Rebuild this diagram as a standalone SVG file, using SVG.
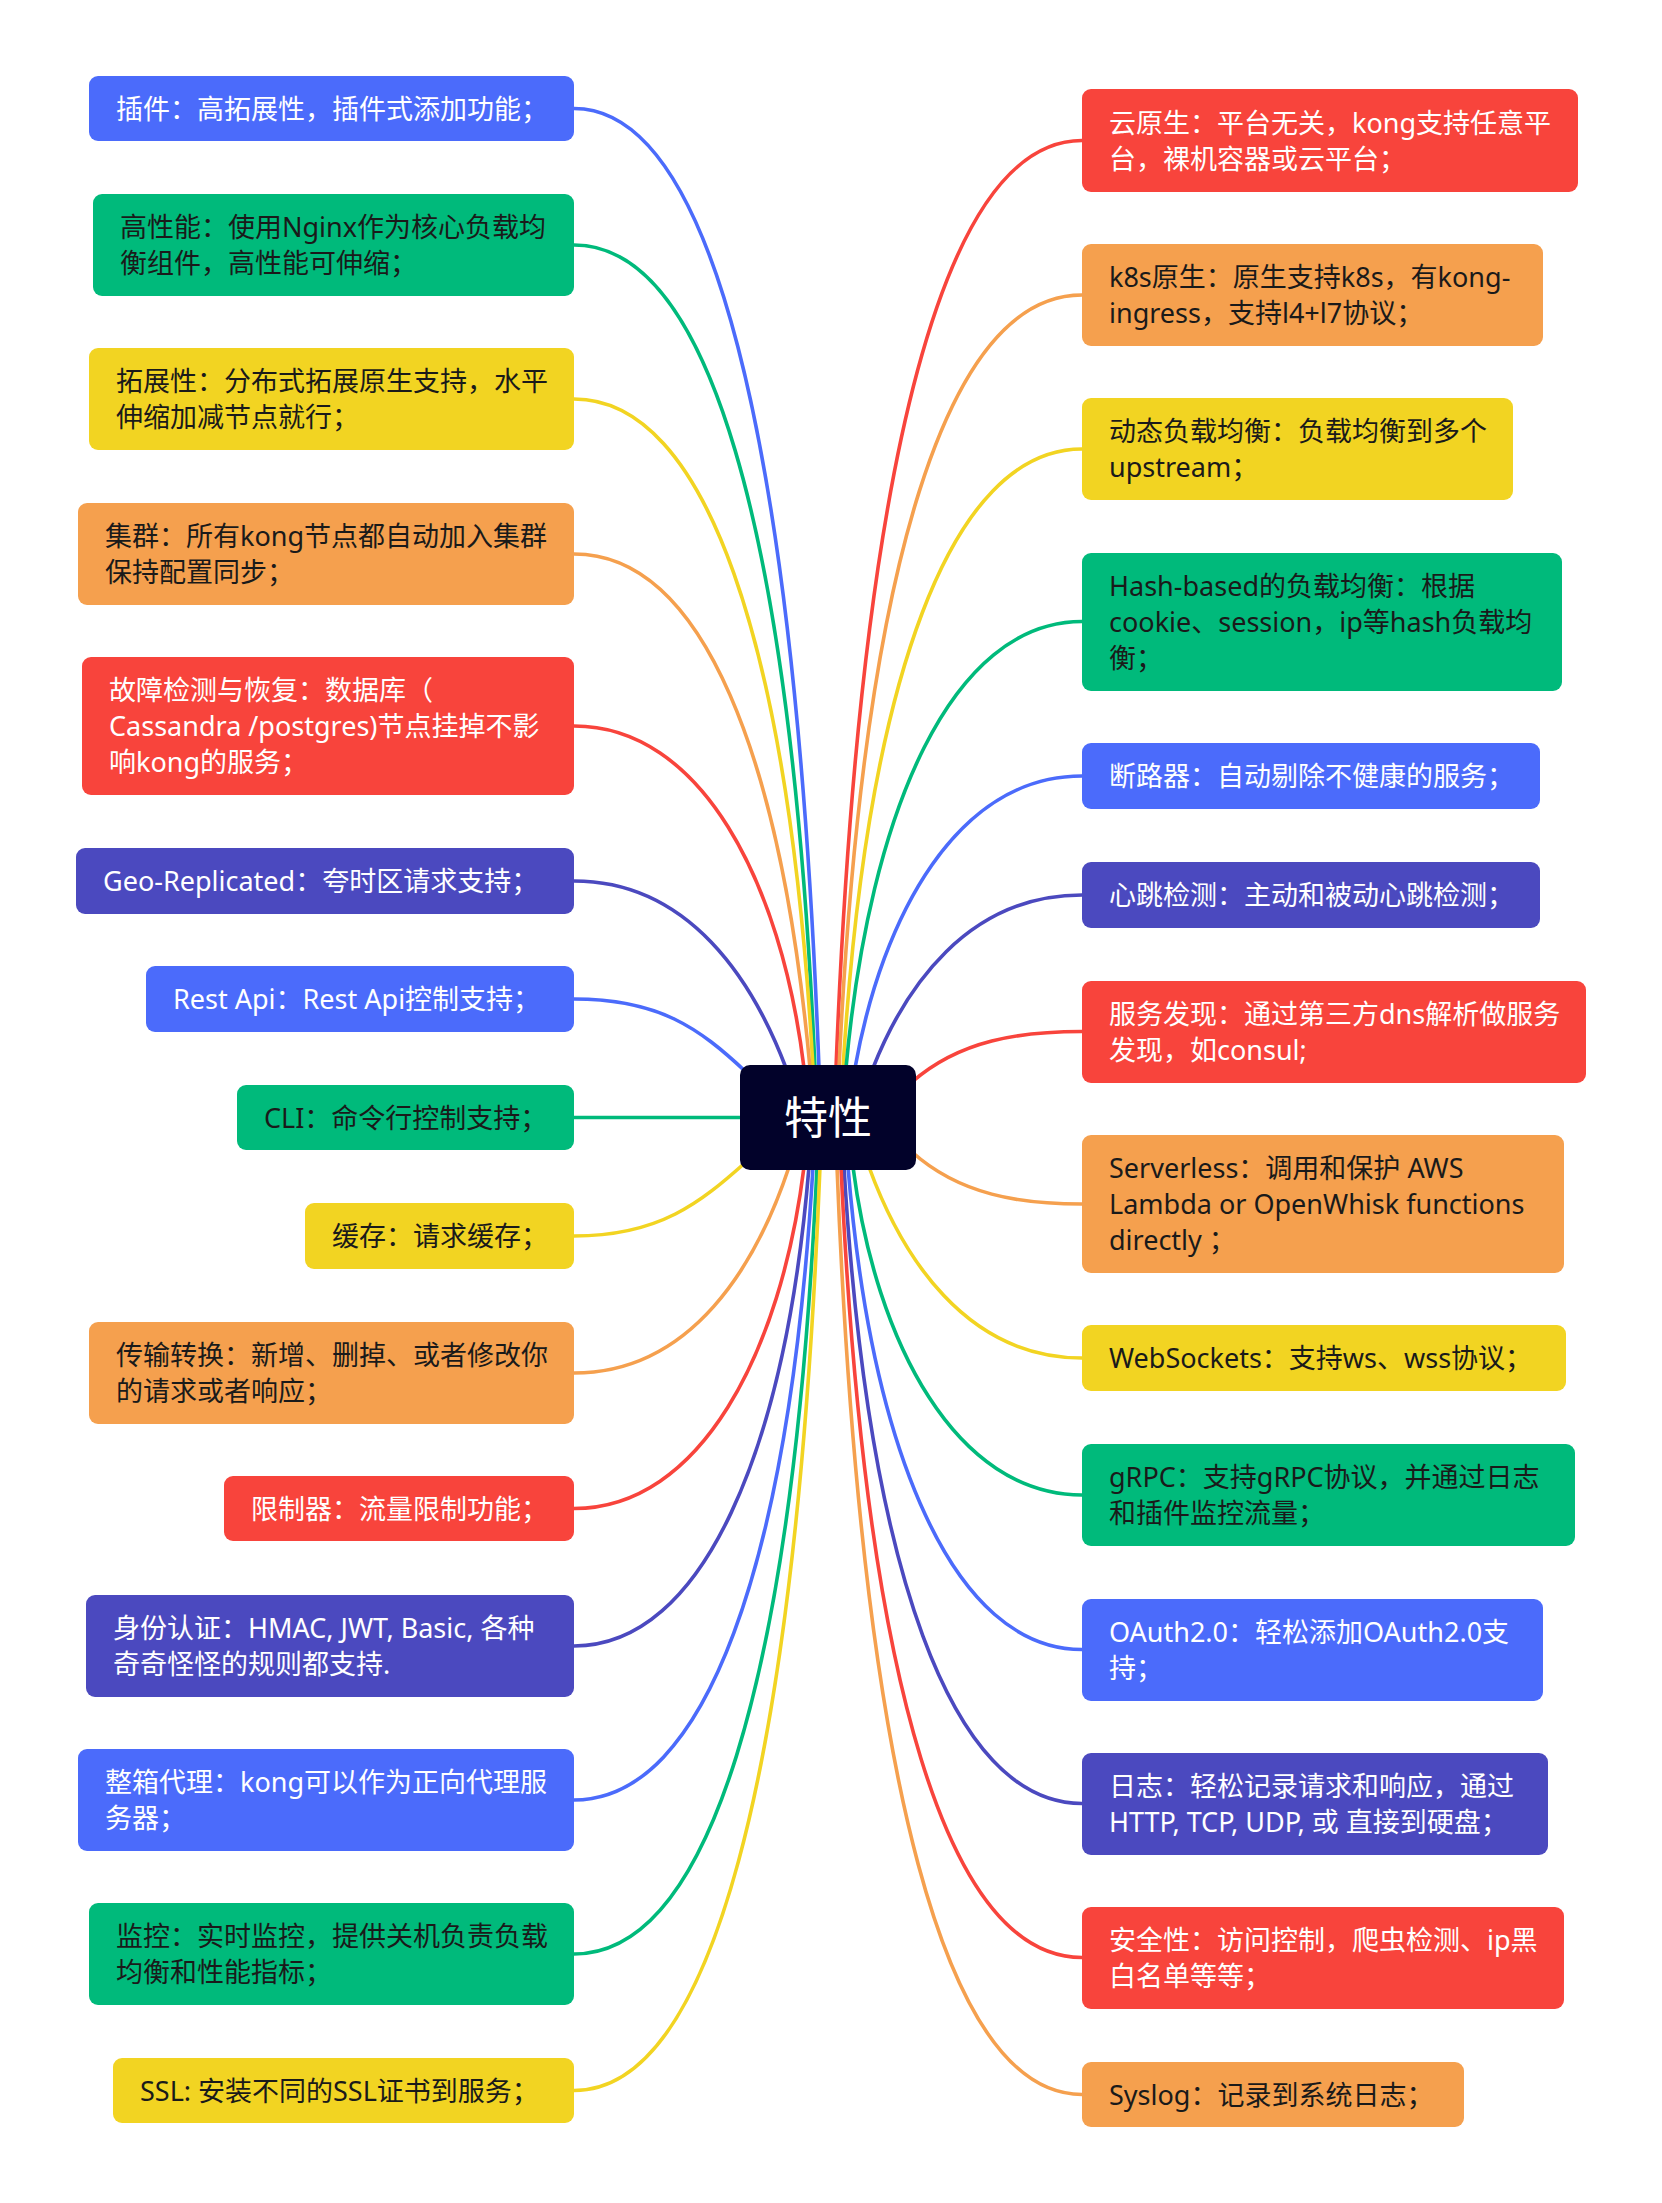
<svg xmlns="http://www.w3.org/2000/svg" width="1662" height="2203" viewBox="0 0 1662 2203">
<style>
.t{font-family:"Noto Sans","Noto Sans CJK SC",sans-serif;font-size:27px}
.w{fill:#ffffff}.d{fill:#1a1a1a}
.bl{fill:#4B6BFB}.gr{fill:#00BA7B}.ye{fill:#F2D422}.or{fill:#F5A04E}.re{fill:#F8443C}.in{fill:#4B49BF}
.c{fill:none;stroke-width:3.6;stroke-linecap:round}
.sbl{stroke:#4B6BFB}.sgr{stroke:#00BA7B}.sye{stroke:#F2D422}.sor{stroke:#F5A04E}.sre{stroke:#F8443C}.sin{stroke:#4B49BF}
</style>
<rect width="1662" height="2203" fill="#ffffff"/>
<g id="connectors">
<path class="c sbl" d="M574,108.5 C708.8,108.5 794.5,424 819,1068"/>
<path class="c sgr" d="M574,245 C706.6,245 790.9,519 815,1068"/>
<path class="c sye" d="M574,399 C705.5,399 789.1,641 813,1068"/>
<path class="c sor" d="M574,554 C703.8,554 781.7,759 810,1068"/>
<path class="c sre" d="M574,726 C700.5,726 781,880 804,1068"/>
<path class="c sin" d="M574,881 C690,881 753.4,982 786,1068"/>
<path class="c sbl" d="M574,999 C659,999 699,1028 746,1072"/>
<path class="c sgr" d="M574,1117.5 L760,1117.5"/>
<path class="c sye" d="M574,1236 C660,1236 701,1202 746,1162"/>
<path class="c sor" d="M574,1373 C692.3,1373 756.8,1264 789,1167"/>
<path class="c sre" d="M574,1508.5 C700.5,1508.5 781,1352.5 804,1167"/>
<path class="c sin" d="M574,1646 C703.3,1646 785.5,1450 809,1167"/>
<path class="c sbl" d="M574,1800 C705.5,1800 789.1,1565.6 813,1167"/>
<path class="c sgr" d="M574,1954 C707.7,1954 792.7,1687.4 817,1167"/>
<path class="c sye" d="M574,2090.5 C709.3,2090.5 795.4,1786.7 820,1167"/>
<path class="c sre" d="M1082,140.5 C946.7,140.5 860.6,445.5 836,1068"/>
<path class="c sor" d="M1082,295 C948.4,295 863.3,559 839,1068"/>
<path class="c sye" d="M1082,449 C950.6,449 866.9,680 843,1068"/>
<path class="c sgr" d="M1082,621.5 C952.2,621.5 869.6,808.7 846,1068"/>
<path class="c sbl" d="M1082,776 C957.2,776 882.2,915.9 855,1068"/>
<path class="c sin" d="M1082,895 C967,895 904.4,988.5 873,1068"/>
<path class="c sre" d="M1082,1031.5 C1020,1031.5 960,1040 912,1082"/>
<path class="c sor" d="M1082,1204 C1020,1204 960,1195 912,1152"/>
<path class="c sye" d="M1082,1358 C964.9,1358 901,1254.6 869,1167"/>
<path class="c sgr" d="M1082,1495 C956.1,1495 875.9,1343.2 853,1167"/>
<path class="c sbl" d="M1082,1649.5 C953.3,1649.5 871.4,1452.5 848,1167"/>
<path class="c sin" d="M1082,1803.5 C951.1,1803.5 867.8,1568.5 844,1167"/>
<path class="c sre" d="M1082,1957.5 C949.5,1957.5 865.1,1689.7 841,1167"/>
<path class="c sor" d="M1082,2094.5 C947.3,2094.5 861.5,1789.5 837,1167"/>
</g>
<g id="root">
<rect x="740" y="1065" width="176" height="105" rx="10" fill="#02022A"/>
<text x="828" y="1134" text-anchor="middle" font-family="Noto Sans CJK SC, sans-serif" font-size="44" fill="#ffffff">特性</text>
</g>
<g id="n-l1"><rect class="bl" x="89" y="76" width="485" height="65" rx="9"/><text class="t w" x="116" y="118.5">插件：高拓展性，插件式添加功能；</text></g>
<g id="n-l2"><rect class="gr" x="93" y="194" width="481" height="102" rx="9"/><text class="t d" x="120" y="237">高性能：使用Nginx作为核心负载均</text><text class="t d" x="120" y="273">衡组件，高性能可伸缩；</text></g>
<g id="n-l3"><rect class="ye" x="89" y="348" width="485" height="102" rx="9"/><text class="t d" x="116" y="391">拓展性：分布式拓展原生支持，水平</text><text class="t d" x="116" y="427">伸缩加减节点就行；</text></g>
<g id="n-l4"><rect class="or" x="78" y="503" width="496" height="102" rx="9"/><text class="t d" x="105" y="546">集群：所有kong节点都自动加入集群</text><text class="t d" x="105" y="582">保持配置同步；</text></g>
<g id="n-l5"><rect class="re" x="82" y="657" width="492" height="138" rx="9"/><text class="t w" x="109" y="700">故障检测与恢复：数据库（</text><text class="t w" x="109" y="736">Cassandra /postgres)节点挂掉不影</text><text class="t w" x="109" y="772">响kong的服务；</text></g>
<g id="n-l6"><rect class="in" x="76" y="848" width="498" height="66" rx="9"/><text class="t w" x="103" y="891">Geo-Replicated：夸时区请求支持；</text></g>
<g id="n-l7"><rect class="bl" x="146" y="966" width="428" height="66" rx="9"/><text class="t w" x="173" y="1009">Rest Api：Rest Api控制支持；</text></g>
<g id="n-l8"><rect class="gr" x="237" y="1085" width="337" height="65" rx="9"/><text class="t d" x="264" y="1127.5">CLI：命令行控制支持；</text></g>
<g id="n-l9"><rect class="ye" x="305" y="1203" width="269" height="66" rx="9"/><text class="t d" x="332" y="1246">缓存：请求缓存；</text></g>
<g id="n-l10"><rect class="or" x="89" y="1322" width="485" height="102" rx="9"/><text class="t d" x="116" y="1365">传输转换：新增、删掉、或者修改你</text><text class="t d" x="116" y="1401">的请求或者响应；</text></g>
<g id="n-l11"><rect class="re" x="224" y="1476" width="350" height="65" rx="9"/><text class="t w" x="251" y="1518.5">限制器：流量限制功能；</text></g>
<g id="n-l12"><rect class="in" x="86" y="1595" width="488" height="102" rx="9"/><text class="t w" x="113" y="1638">身份认证：HMAC, JWT, Basic, 各种</text><text class="t w" x="113" y="1674">奇奇怪怪的规则都支持.</text></g>
<g id="n-l13"><rect class="bl" x="78" y="1749" width="496" height="102" rx="9"/><text class="t w" x="105" y="1792">整箱代理：kong可以作为正向代理服</text><text class="t w" x="105" y="1828">务器；</text></g>
<g id="n-l14"><rect class="gr" x="89" y="1903" width="485" height="102" rx="9"/><text class="t d" x="116" y="1946">监控：实时监控，提供关机负责负载</text><text class="t d" x="116" y="1982">均衡和性能指标；</text></g>
<g id="n-l15"><rect class="ye" x="113" y="2058" width="461" height="65" rx="9"/><text class="t d" x="140" y="2100.5">SSL: 安装不同的SSL证书到服务；</text></g>
<g id="n-r1"><rect class="re" x="1082" y="89" width="496" height="103" rx="9"/><text class="t w" x="1109" y="132.5">云原生：平台无关，kong支持任意平</text><text class="t w" x="1109" y="168.5">台，裸机容器或云平台；</text></g>
<g id="n-r2"><rect class="or" x="1082" y="244" width="461" height="102" rx="9"/><text class="t d" x="1109" y="287">k8s原生：原生支持k8s，有kong-</text><text class="t d" x="1109" y="323">ingress，支持l4+l7协议；</text></g>
<g id="n-r3"><rect class="ye" x="1082" y="398" width="431" height="102" rx="9"/><text class="t d" x="1109" y="441">动态负载均衡：负载均衡到多个</text><text class="t d" x="1109" y="477">upstream；</text></g>
<g id="n-r4"><rect class="gr" x="1082" y="553" width="480" height="138" rx="9"/><text class="t d" x="1109" y="595.5">Hash-based的负载均衡：根据</text><text class="t d" x="1109" y="631.5">cookie、session，ip等hash负载均</text><text class="t d" x="1109" y="667.5">衡；</text></g>
<g id="n-r5"><rect class="bl" x="1082" y="743" width="458" height="66" rx="9"/><text class="t w" x="1109" y="786">断路器：自动剔除不健康的服务；</text></g>
<g id="n-r6"><rect class="in" x="1082" y="862" width="458" height="66" rx="9"/><text class="t w" x="1109" y="905">心跳检测：主动和被动心跳检测；</text></g>
<g id="n-r7"><rect class="re" x="1082" y="981" width="504" height="102" rx="9"/><text class="t w" x="1109" y="1024">服务发现：通过第三方dns解析做服务</text><text class="t w" x="1109" y="1060">发现，如consul;</text></g>
<g id="n-r8"><rect class="or" x="1082" y="1135" width="482" height="138" rx="9"/><text class="t d" x="1109" y="1178">Serverless：调用和保护 AWS</text><text class="t d" x="1109" y="1214">Lambda or OpenWhisk functions</text><text class="t d" x="1109" y="1250">directly ；</text></g>
<g id="n-r9"><rect class="ye" x="1082" y="1325" width="484" height="66" rx="9"/><text class="t d" x="1109" y="1368">WebSockets：支持ws、wss协议；</text></g>
<g id="n-r10"><rect class="gr" x="1082" y="1444" width="493" height="102" rx="9"/><text class="t d" x="1109" y="1487">gRPC：支持gRPC协议，并通过日志</text><text class="t d" x="1109" y="1523">和插件监控流量；</text></g>
<g id="n-r11"><rect class="bl" x="1082" y="1599" width="461" height="102" rx="9"/><text class="t w" x="1109" y="1641.5">OAuth2.0：轻松添加OAuth2.0支</text><text class="t w" x="1109" y="1677.5">持；</text></g>
<g id="n-r12"><rect class="in" x="1082" y="1753" width="466" height="102" rx="9"/><text class="t w" x="1109" y="1796">日志：轻松记录请求和响应，通过</text><text class="t w" x="1109" y="1832">HTTP, TCP, UDP, 或 直接到硬盘；</text></g>
<g id="n-r13"><rect class="re" x="1082" y="1907" width="482" height="102" rx="9"/><text class="t w" x="1109" y="1950">安全性：访问控制，爬虫检测、ip黑</text><text class="t w" x="1109" y="1986">白名单等等；</text></g>
<g id="n-r14"><rect class="or" x="1082" y="2062" width="382" height="65" rx="9"/><text class="t d" x="1109" y="2104.5">Syslog：记录到系统日志；</text></g>
</svg>
